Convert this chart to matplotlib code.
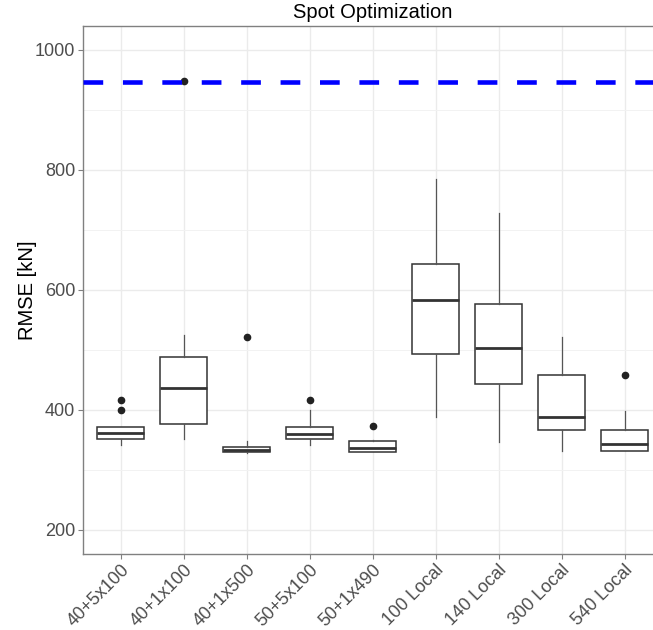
import matplotlib
matplotlib.use("Agg")
import matplotlib.pyplot as plt
from matplotlib.ticker import MultipleLocator

plt.rcParams['font.family'] = ['Liberation Sans', 'DejaVu Sans']

# RMSE distribution per spot-optimization setup
methods = ["40+5x100", "40+1x100", "40+1x500", "50+5x100", "50+1x490",
           "100 Local", "140 Local", "300 Local", "540 Local"]
whisker_low = [341, 351, 329, 341, 330, 389, 347, 331, 331]
q1 = [352, 377, 330, 351, 330, 493, 444, 367, 331]
median = [362, 436, 333, 360, 337, 583, 504, 388, 344]
q3 = [371, 489, 338, 371, 348, 643, 577, 458, 367]
whisker_high = [372, 525, 349, 400, 350, 785, 729, 521, 398]
outliers = [[416, 400], [949], [521], [416], [374], [], [], [], [459]]
reference_rmse = 946

fig = plt.figure(figsize=(6.53, 6.30), dpi=100)
ax = fig.add_axes([82.7 / 653, 76 / 630, 579.6 / 653, 528 / 630])

stats = []
for i, name in enumerate(methods):
    stats.append(dict(label=name, whislo=whisker_low[i], q1=q1[i], med=median[i],
                      q3=q3[i], whishi=whisker_high[i], fliers=outliers[i]))

positions = list(range(1, len(methods) + 1))
ax.bxp(stats, positions=positions, widths=0.75, patch_artist=True, showcaps=False,
       boxprops=dict(facecolor='white', edgecolor='#333333', linewidth=1.1),
       medianprops=dict(color='#333333', linewidth=2.0),
       whiskerprops=dict(color='#555555', linewidth=0.9),
       flierprops=dict(marker='o', markersize=4.5, markerfacecolor='#222222',
                       markeredgecolor='#222222'),
       zorder=3)

ax.axhline(reference_rmse, color='#0000FF', linewidth=3.3, linestyle=(0, (4.3, 4.3)),
           zorder=4)

ax.set_xlim(0.4, len(methods) + 0.6)
ax.set_ylim(160, 1040)
ax.yaxis.set_major_locator(MultipleLocator(200))
ax.yaxis.set_minor_locator(MultipleLocator(100))
ax.set_xticks(positions)
ax.set_xticklabels(methods, rotation=45, ha='right', va='top',
                   rotation_mode='anchor')

ax.grid(which='major', color='#EBEBEB', linewidth=1.0, zorder=0)
ax.grid(which='minor', axis='y', color='#F2F2F2', linewidth=0.7, zorder=0)
ax.set_axisbelow(True)

for side in ['left', 'top', 'bottom', 'right']:
    ax.spines[side].set_color('#808080')
    ax.spines[side].set_linewidth(1.0)

ax.tick_params(axis='both', which='major', length=3.5, width=0.8, color='#808080',
               labelsize=13, labelcolor='#4D4D4D', pad=2)
ax.tick_params(axis='x', pad=2)
ax.tick_params(axis='y', which='minor', length=0)

ax.set_ylabel('RMSE [kN]', fontsize=14.5, color='black', labelpad=-1.5)
ax.set_title('Spot Optimization', fontsize=14.5, color='black', pad=6)

fig.savefig('out.png', dpi=100)
